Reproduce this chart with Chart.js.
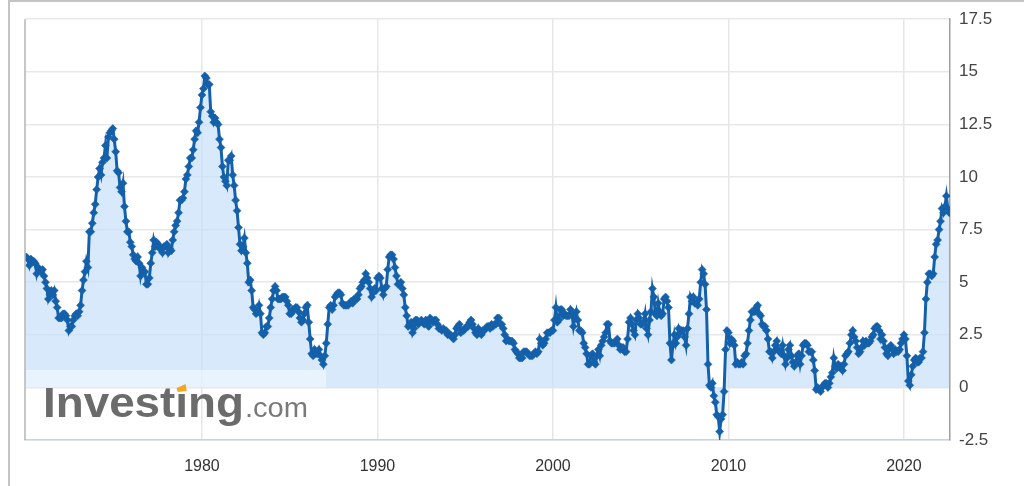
<!DOCTYPE html>
<html>
<head>
<meta charset="utf-8">
<script src="https://cdn.jsdelivr.net/npm/chart.js@4.4.1/dist/chart.umd.min.js"></script>
<style>
  html, body { margin: 0; padding: 0; background: #fff; }
  #wrap { width: 1024px; height: 486px; position: relative; }
</style>
</head>
<body>
<div id="wrap"><canvas id="cpiChart"></canvas></div>
<script>
// US CPI, year over year (%), monthly, starting Dec 1969
const startYear = 1969;
const startMonth = 11; // December (0-based)
const cpiYoY = [
    6.2,
    6.2, 6.1, 5.8, 6.1, 6.0, 6.0, 5.9, 5.4, 5.7, 5.6, 5.5, 5.6,   // 1970
    5.3, 5.0, 4.7, 4.2, 4.4, 4.6, 4.4, 4.6, 4.1, 3.8, 3.3, 3.3,   // 1971
    3.3, 3.5, 3.5, 3.4, 3.2, 2.7, 2.9, 2.9, 3.2, 3.4, 3.5, 3.4,   // 1972
    3.6, 3.9, 4.6, 5.1, 5.5, 6.0, 5.7, 7.4, 7.4, 7.8, 8.3, 8.7,   // 1973
    9.4, 10.0, 10.4, 10.1, 10.7, 10.9, 11.5, 10.9, 11.9, 12.1, 12.2, 12.3, // 1974
    11.8, 11.2, 10.3, 10.2, 9.5, 9.3, 9.7, 8.6, 7.9, 7.4, 7.4, 6.9, // 1975
    6.7, 6.3, 6.1, 6.0, 6.2, 5.9, 5.3, 5.7, 5.5, 5.5, 4.9, 4.9,   // 1976
    5.2, 5.9, 6.4, 7.0, 6.7, 6.9, 6.8, 6.6, 6.6, 6.4, 6.7, 6.7,   // 1977
    6.8, 6.4, 6.6, 6.5, 7.0, 7.4, 7.7, 7.9, 8.3, 8.9, 8.9, 9.0,   // 1978
    9.3, 9.9, 10.1, 10.5, 10.9, 10.9, 11.3, 11.8, 12.2, 12.1, 12.6, 13.3, // 1979
    13.9, 14.2, 14.8, 14.7, 14.4, 14.4, 13.1, 12.9, 12.6, 12.8, 12.6, 12.5, // 1980
    11.8, 11.4, 10.5, 10.0, 9.8, 9.6, 10.8, 10.8, 11.0, 10.1, 9.6, 8.9, // 1981
    8.4, 7.6, 6.8, 6.5, 6.7, 7.1, 6.4, 5.9, 5.0, 5.1, 4.6, 3.8,   // 1982
    3.7, 3.5, 3.6, 3.9, 3.5, 2.6, 2.5, 2.6, 2.9, 2.9, 3.3, 3.8,   // 1983
    4.2, 4.6, 4.8, 4.6, 4.2, 4.2, 4.2, 4.3, 4.3, 4.3, 4.1, 3.9,   // 1984
    3.5, 3.5, 3.7, 3.7, 3.8, 3.8, 3.6, 3.3, 3.1, 3.2, 3.5, 3.8,   // 1985
    3.9, 3.1, 2.3, 1.6, 1.5, 1.8, 1.6, 1.6, 1.8, 1.5, 1.3, 1.1,   // 1986
    1.5, 2.1, 3.0, 3.8, 3.9, 3.7, 3.9, 4.3, 4.4, 4.5, 4.5, 4.4,   // 1987
    4.0, 3.9, 3.9, 3.9, 3.9, 4.0, 4.1, 4.0, 4.2, 4.2, 4.2, 4.4,   // 1988
    4.7, 4.8, 5.0, 5.1, 5.4, 5.2, 5.0, 4.7, 4.3, 4.5, 4.7, 4.6,   // 1989
    5.2, 5.3, 5.2, 4.7, 4.4, 4.7, 4.8, 5.6, 6.2, 6.3, 6.3, 6.1,   // 1990
    5.7, 5.3, 4.9, 4.9, 5.0, 4.7, 4.4, 3.8, 3.4, 2.9, 3.0, 3.1,   // 1991
    2.6, 2.8, 3.2, 3.2, 3.0, 3.1, 3.2, 3.1, 3.0, 3.2, 3.0, 2.9,   // 1992
    3.3, 3.2, 3.1, 3.2, 3.2, 3.0, 2.8, 2.8, 2.7, 2.8, 2.7, 2.7,   // 1993
    2.5, 2.5, 2.5, 2.4, 2.3, 2.5, 2.8, 2.9, 3.0, 2.6, 2.7, 2.7,   // 1994
    2.8, 2.9, 2.9, 3.1, 3.2, 3.0, 2.8, 2.6, 2.5, 2.8, 2.6, 2.5,   // 1995
    2.7, 2.7, 2.8, 2.9, 2.9, 2.8, 3.0, 2.9, 3.0, 3.0, 3.3, 3.3,   // 1996
    3.0, 3.0, 2.8, 2.5, 2.2, 2.3, 2.2, 2.2, 2.2, 2.1, 1.8, 1.7,   // 1997
    1.6, 1.4, 1.4, 1.4, 1.7, 1.7, 1.7, 1.6, 1.5, 1.5, 1.5, 1.6,   // 1998
    1.7, 1.6, 1.7, 2.3, 2.1, 2.0, 2.1, 2.3, 2.6, 2.6, 2.6, 2.7,   // 1999
    2.7, 3.2, 3.8, 3.1, 3.2, 3.7, 3.7, 3.4, 3.5, 3.4, 3.4, 3.4,   // 2000
    3.7, 3.5, 2.9, 3.3, 3.6, 3.2, 2.7, 2.7, 2.6, 2.1, 1.9, 1.6,   // 2001
    1.1, 1.1, 1.5, 1.6, 1.2, 1.1, 1.5, 1.8, 1.5, 2.0, 2.2, 2.4,   // 2002
    2.6, 3.0, 3.0, 2.2, 2.1, 2.1, 2.1, 2.2, 2.3, 2.0, 1.8, 1.9,   // 2003
    1.9, 1.7, 1.7, 2.3, 3.1, 3.3, 3.0, 2.7, 2.5, 3.2, 3.5, 3.3,   // 2004
    3.0, 3.0, 3.1, 3.5, 2.8, 2.5, 3.2, 3.6, 4.7, 4.3, 3.5, 3.4,   // 2005
    4.0, 3.6, 3.4, 3.5, 4.2, 4.3, 4.1, 3.8, 2.1, 1.3, 2.0, 2.5,   // 2006
    2.1, 2.4, 2.8, 2.6, 2.7, 2.7, 2.4, 2.0, 2.8, 3.5, 4.3, 4.1,   // 2007
    4.3, 4.0, 4.0, 3.9, 4.2, 5.0, 5.6, 5.4, 4.9, 3.7, 1.1, 0.1,   // 2008
    0.0, 0.2, -0.4, -0.7, -1.3, -1.4, -2.1, -1.5, -1.3, -0.2, 1.8, 2.7, // 2009
    2.6, 2.1, 2.3, 2.2, 2.0, 1.1, 1.2, 1.1, 1.1, 1.2, 1.1, 1.5,   // 2010
    1.6, 2.1, 2.7, 3.2, 3.6, 3.6, 3.6, 3.8, 3.9, 3.5, 3.4, 3.0,   // 2011
    2.9, 2.9, 2.7, 2.3, 1.7, 1.7, 1.4, 1.7, 2.0, 2.2, 1.8, 1.7,   // 2012
    1.6, 2.0, 1.5, 1.1, 1.4, 1.8, 2.0, 1.5, 1.2, 1.0, 1.2, 1.5,   // 2013
    1.6, 1.1, 1.5, 2.0, 2.1, 2.1, 2.0, 1.7, 1.7, 1.7, 1.3, 0.8,   // 2014
    -0.1, 0.0, -0.1, -0.2, 0.0, 0.1, 0.2, 0.2, 0.0, 0.2, 0.5, 0.7, // 2015
    1.4, 1.0, 0.9, 1.1, 1.0, 1.0, 0.8, 1.1, 1.5, 1.6, 1.7, 2.1,   // 2016
    2.5, 2.7, 2.4, 2.2, 1.9, 1.6, 1.7, 1.9, 2.2, 2.0, 2.2, 2.1,   // 2017
    2.1, 2.2, 2.4, 2.5, 2.8, 2.9, 2.9, 2.7, 2.3, 2.5, 2.2, 1.9,   // 2018
    1.6, 1.5, 1.9, 2.0, 1.8, 1.6, 1.8, 1.7, 1.7, 1.8, 2.1, 2.3,   // 2019
    2.5, 2.3, 1.5, 0.3, 0.1, 0.6, 1.0, 1.3, 1.4, 1.2, 1.2, 1.4,   // 2020
    1.4, 1.7, 2.6, 4.2, 5.0, 5.4, 5.4, 5.3, 5.4, 6.2, 6.8, 7.0,   // 2021
    7.5, 7.9, 8.5, 8.3, 8.6, 9.1, 8.5, 8.3                          // 2022
];
const decadeTicks = [1980, 1990, 2000, 2010, 2020];
const yTicks = [-2.5, 0, 2.5, 5, 7.5, 10, 12.5, 15, 17.5];

// points as {x: fractional year, y: value}
const points = cpiYoY.map(function (v, i) {
    return { x: startYear + (startMonth + i) / 12, y: v };
});
const xMin = points[0].x;
const xMax = points[points.length - 1].x + 0.04;

const LINE = '#1460aa';
const FONT = '"Liberation Sans", Arial, sans-serif';

// frame, left axis line and the watermark
const decorPlugin = {
    id: 'decor',
    beforeDraw: function (chart) {
        const ctx = chart.ctx;
        ctx.save();
        ctx.fillStyle = '#fff';
        ctx.fillRect(0, 0, chart.width, chart.height);
        ctx.strokeStyle = '#c4c4c4';
        ctx.lineWidth = 2;
        ctx.beginPath();
        ctx.moveTo(9, chart.height + 2);
        ctx.lineTo(9, 1);
        ctx.lineTo(chart.width + 2, 1);
        ctx.stroke();
        ctx.restore();
    },
    afterDatasetsDraw: function (chart) {
        const ctx = chart.ctx;
        const area = chart.chartArea;
        const zeroY = chart.scales.y.getPixelForValue(0);
        ctx.save();
        // pale box behind the logo
        ctx.fillStyle = 'rgba(255,255,255,0.45)';
        ctx.fillRect(area.left, 370, 301, zeroY - 370);

        // Investing.com logo (second i is dotless, its dot is orange)
        ctx.textBaseline = 'alphabetic';
        ctx.font = 'bold 41px ' + FONT;
        const word = 'Invest\u0131ng';
        const w = ctx.measureText(word).width;
        const sx = 201 / w;
        const preW = ctx.measureText('Invest').width * sx;
        const iW = ctx.measureText('\u0131').width * sx;
        ctx.save();
        ctx.translate(43, 417);
        ctx.scale(sx, 1.02);
        ctx.fillStyle = '#6b6b6b';
        ctx.fillText(word, 0, 0);
        ctx.restore();

        ctx.font = '27px ' + FONT;
        const cw = ctx.measureText('.com').width;
        ctx.save();
        ctx.translate(245, 417);
        ctx.scale(63 / cw, 1);
        ctx.fillStyle = '#7a7a7a';
        ctx.fillText('.com', 0, 0);
        ctx.restore();

        // orange dot over the i
        const dx = 43 + preW + iW / 2;
        ctx.fillStyle = '#f5a623';
        ctx.beginPath();
        ctx.moveTo(dx - 5, 388);
        ctx.lineTo(dx + 4, 384);
        ctx.lineTo(dx + 5, 391);
        ctx.lineTo(dx - 4, 392);
        ctx.closePath();
        ctx.fill();

        // left axis line
        ctx.strokeStyle = '#b4b4b4';
        ctx.lineWidth = 1.5;
        ctx.beginPath();
        ctx.moveTo(area.left, area.top);
        ctx.lineTo(area.left, area.bottom);
        ctx.stroke();
        ctx.restore();
    }
};

document.addEventListener('DOMContentLoaded', function () {
    const ctx = document.getElementById('cpiChart').getContext('2d');
    const cpiChart = new Chart(ctx, {
        type: 'line',
        data: {
            datasets: [{
                label: 'CPI YoY',
                data: points,
                borderColor: LINE,
                borderWidth: 3,
                backgroundColor: 'rgba(200, 224, 250, 0.7)',
                fill: 'origin',
                tension: 0,
                pointStyle: 'rectRot',
                pointRadius: 4,
                pointBackgroundColor: LINE,
                pointBorderColor: LINE,
                pointBorderWidth: 0.5
            }]
        },
        plugins: [decorPlugin],
        options: {
            responsive: true,
            maintainAspectRatio: false,
            animation: false,
            layout: {
                padding: { left: 25, top: 17, right: 0, bottom: 0 }
            },
            plugins: {
                legend: { display: false },
                tooltip: { enabled: false }
            },
            scales: {
                x: {
                    type: 'linear',
                    min: xMin,
                    max: xMax,
                    afterFit: function (scale) { scale.height = 46; },
                    afterBuildTicks: function (scale) {
                        scale.ticks = decadeTicks.map(function (v) { return { value: v }; });
                    },
                    grid: {
                        color: '#e6e6e6',
                        lineWidth: 1.5,
                        drawTicks: false
                    },
                    border: { color: '#c3d3ea', width: 1.5 },
                    ticks: {
                        padding: 17,
                        maxRotation: 0,
                        color: '#333',
                        font: { family: FONT, size: 16 },
                        callback: function (v) { return String(v); }
                    }
                },
                y: {
                    position: 'right',
                    min: -2.5,
                    max: 17.5,
                    afterFit: function (scale) { scale.width = 74; },
                    afterBuildTicks: function (scale) {
                        scale.ticks = yTicks.map(function (v) { return { value: v }; });
                    },
                    grid: {
                        color: '#e8e8e8',
                        lineWidth: 1.5,
                        drawTicks: false
                    },
                    border: { color: '#a0a0a0', width: 1.5 },
                    ticks: {
                        padding: 9,
                        color: '#444',
                        font: { family: FONT, size: 17 },
                        callback: function (v) { return String(v); }
                    }
                }
            }
        }
    });
    window.cpiChart = cpiChart;
});
</script>
</body>
</html>
